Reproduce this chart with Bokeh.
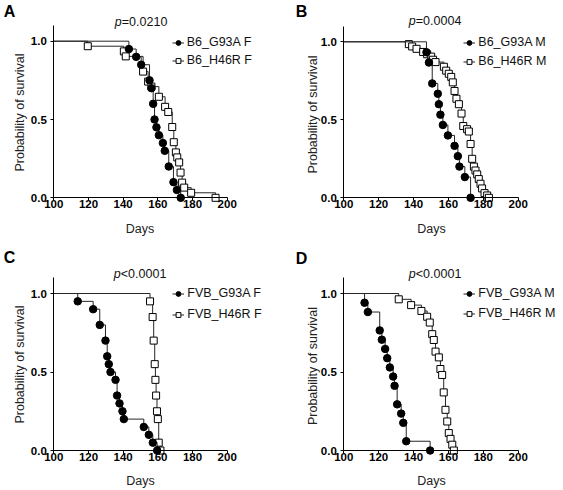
import math
from bokeh.plotting import figure
from bokeh.layouts import gridplot
from bokeh.models import (Range1d, FixedTicker, PrintfTickFormatter, Label, Legend, LegendItem,
                          LinearAxis)
from bokeh.embed import file_html
from bokeh.resources import INLINE

# ---------------- data ----------------
x_ticks = [100, 120, 140, 160, 180, 200]
y_ticks = [0.0, 0.5, 1.0]

panel_letters = ["A", "B", "C", "D"]
p_ops = ["=", "=", "<", "<"]
p_vals = ["0.0210", "0.0004", "0.0001", "0.0001"]
g93a_names = ["B6_G93A F", "B6_G93A M", "FVB_G93A F", "FVB_G93A M"]
h46r_names = ["B6_H46R F", "B6_H46R M", "FVB_H46R F", "FVB_H46R M"]

a_g93a_days = [143.3, 147.5, 150.4, 155.2, 156.3, 157.3, 158.1, 159.2, 160.6, 162.9, 164.0, 166.3, 169.0, 171.0, 173.2]
a_g93a_surv = [0.95, 0.90, 0.85, 0.75, 0.70, 0.60, 0.50, 0.45, 0.40, 0.35, 0.30, 0.20, 0.10, 0.05, 0.00]
a_h46r_days = [119.6, 140.4, 141.5, 151.5, 154.4, 156.3, 160.6, 164.2, 166.0, 168.3, 169.2, 170.4, 171.2, 172.3, 173.1, 174.0, 175.2, 179.2, 193.3]
a_h46r_surv = [0.968, 0.935, 0.903, 0.806, 0.742, 0.710, 0.645, 0.581, 0.548, 0.452, 0.355, 0.290, 0.258, 0.226, 0.161, 0.097, 0.065, 0.032, 0.0]

b_g93a_days = [147.4, 148.8, 150.7, 153.9, 154.5, 155.4, 156.8, 159.7, 163.5, 165.4, 166.3, 169.4, 172.7]
b_g93a_surv = [0.933, 0.867, 0.733, 0.667, 0.600, 0.533, 0.467, 0.400, 0.333, 0.267, 0.200, 0.133, 0.0]
b_h46r_days = [137.3, 139.2, 141.7, 145.5, 147.8, 150.1, 151.2, 152.6, 157.4, 158.7, 160.2, 161.6, 162.5, 163.5,
               164.6, 166.0, 167.5, 168.5, 170.7, 171.7, 172.7, 173.6, 174.6, 175.5, 176.5, 177.4, 178.4, 179.3,
               180.7, 182.2, 183.2]
b_h46r_surv = [0.985, 0.970, 0.955, 0.935, 0.920, 0.905, 0.885, 0.870, 0.840, 0.815, 0.795, 0.775, 0.740, 0.685,
               0.635, 0.600, 0.540, 0.460, 0.440, 0.425, 0.345, 0.250, 0.200, 0.175, 0.150, 0.120, 0.090, 0.060,
               0.030, 0.015, 0.0]

c_g93a_days = [113.8, 122.7, 126.5, 129.8, 130.8, 131.7, 132.7, 135.6, 136.5, 137.9, 139.6, 140.4, 151.9, 154.8, 157.1, 159.6]
c_g93a_surv = [0.95, 0.90, 0.80, 0.70, 0.60, 0.55, 0.50, 0.45, 0.35, 0.30, 0.25, 0.20, 0.15, 0.10, 0.05, 0.0]
c_h46r_days = [155.5, 157.0, 157.6, 158.2, 158.6, 159.0, 159.5, 160.0, 160.5, 161.5]
c_h46r_surv = [0.95, 0.85, 0.70, 0.55, 0.45, 0.35, 0.25, 0.20, 0.05, 0.0]

d_g93a_days = [111.9, 113.8, 120.6, 121.8, 123.7, 124.9, 126.4, 128.3, 129.1, 130.6, 132.9, 134.1, 135.8, 149.5]
d_g93a_surv = [0.941, 0.882, 0.765, 0.706, 0.647, 0.588, 0.529, 0.471, 0.412, 0.294, 0.235, 0.176, 0.059, 0.0]
d_h46r_days = [131.5, 138.6, 144.5, 147.8, 149.3, 150.7, 151.6, 152.6, 154.5, 155.4, 156.4, 157.3, 158.3, 159.3,
               160.2, 161.2, 162.2, 163.1]
d_h46r_surv = [0.963, 0.926, 0.889, 0.852, 0.815, 0.741, 0.704, 0.630, 0.593, 0.519, 0.481, 0.370, 0.259, 0.185,
               0.111, 0.074, 0.037, 0.0]

g93a_days = [a_g93a_days, b_g93a_days, c_g93a_days, d_g93a_days]
g93a_surv = [a_g93a_surv, b_g93a_surv, c_g93a_surv, d_g93a_surv]
h46r_days = [a_h46r_days, b_h46r_days, c_h46r_days, d_h46r_days]
h46r_surv = [a_h46r_surv, b_h46r_surv, c_h46r_surv, d_h46r_surv]

# ---------------- layout / style ----------------
FONT = "Liberation Sans"
LC = "#262626"
TXT = "#111111"

# figure origin/size on the page, and the placement of the axes inside it (page pixels)
geoms = [
    dict(x0=0, y0=0, w=280, h=245, fx=53.3, ppx=1.734, fy0=197.3, ppu=156.6),
    dict(x0=280, y0=0, w=283, h=245, fx=343.3, ppx=1.744, fy0=197.3, ppu=156.0),
    dict(x0=0, y0=245, w=280, h=245, fx=53.3, ppx=1.734, fy0=450.0, ppu=157.0),
    dict(x0=280, y0=245, w=283, h=245, fx=343.3, ppx=1.744, fy0=450.0, ppu=157.0),
]
letter_pos = [(9, 10.5), (301, 10.5), (9, 256.5), (301, 258)]
pval_pos = [(121.3, 21), (415.3, 20.5), (120.3, 273), (415.3, 273)]
days_pos = [(139.5, 228), (431, 228), (140, 480), (431, 480)]
ylab_pos = [(19, 112), (312, 114), (19, 364), (312, 365.5)]
legend_pos = [(171.7, 42), (463.3, 42), (172.3, 293.3), (463.3, 293.3)]
legend_pitch = [18, 19, 21, 20]


def to_data(g, x, y):
    return 100 + (x - g["fx"]) / g["ppx"], (g["fy0"] - y) / g["ppu"]


def add_text(p, g, x, y, text, size, style="normal", align="left", baseline="middle",
             color=TXT, angle=0.0):
    dx, dy = to_data(g, x, y)
    p.add_layout(Label(x=dx, y=dy, text=text, text_font=FONT, text_font_size=size,
                       text_font_style=style, text_align=align, text_baseline=baseline,
                       text_color=color, angle=angle))


def make_panel(i):
    g = geoms[i]
    x_lo, y_hi = to_data(g, g["x0"], g["y0"])
    x_hi, y_lo = to_data(g, g["x0"] + g["w"], g["y0"] + g["h"])
    p = figure(width=g["w"], height=g["h"],
               x_range=Range1d(x_lo, x_hi), y_range=Range1d(y_lo, y_hi),
               x_axis_location=None, y_axis_location=None,
               min_border=0, min_border_left=0, min_border_right=0,
               min_border_top=0, min_border_bottom=0,
               output_backend="svg", toolbar_location=None)
    p.grid.visible = False
    p.outline_line_color = None
    p.background_fill_color = "white"
    p.border_fill_color = "white"

    xaxis = LinearAxis(fixed_location=0, bounds=(100, 200), ticker=FixedTicker(ticks=x_ticks))
    yaxis = LinearAxis(fixed_location=100, bounds=(0, 1.1), ticker=FixedTicker(ticks=y_ticks),
                       formatter=PrintfTickFormatter(format="%.1f"))
    for ax in (xaxis, yaxis):
        ax.major_tick_in = 0
        ax.major_tick_out = 3
        ax.minor_tick_in = 0
        ax.minor_tick_out = 0
        ax.axis_line_color = "black"
        ax.major_tick_line_color = "black"
        ax.major_label_text_font = FONT
        ax.major_label_text_font_size = "11.5px"
        ax.major_label_text_font_style = "bold"
        ax.major_label_text_color = "black"
    xaxis.major_label_standoff = -1
    yaxis.major_label_standoff = 4
    p.add_layout(xaxis, "below")
    p.add_layout(yaxis, "left")

    # H46R (open squares)
    l2 = p.step(x=[100] + h46r_days[i], y=[1.0] + h46r_surv[i], mode="after", line_color=LC, line_width=1)
    s2 = p.scatter(h46r_days[i], h46r_surv[i], marker="square", size=7,
                   fill_color="white", line_color="black", line_width=1)
    # G93A (filled circles)
    l1 = p.step(x=[100] + g93a_days[i], y=[1.0] + g93a_surv[i], mode="after", line_color=LC, line_width=1)
    s1 = p.scatter(g93a_days[i], g93a_surv[i], marker="circle", size=7.5,
                   fill_color="black", line_color="black")

    # legend (location is measured from the frame's bottom-left corner)
    gx, gy = legend_pos[i]
    pitch = legend_pitch[i]
    ih = 15
    height = 2 * ih + (pitch - ih)
    bottom_page = gy - ih / 2.0 + height
    legend = Legend(items=[LegendItem(label=g93a_names[i], renderers=[l1, s1]),
                           LegendItem(label=h46r_names[i], renderers=[l2, s2])],
                    location=(gx - g["x0"], g["y0"] + g["h"] - bottom_page),
                    padding=0, margin=0, spacing=pitch - ih,
                    glyph_width=12, glyph_height=ih, label_height=ih, label_standoff=3,
                    label_text_font=FONT, label_text_font_size="12.5px", label_text_color=TXT,
                    border_line_color=None, background_fill_alpha=0)
    p.add_layout(legend)

    # texts
    lx, ly = letter_pos[i]
    add_text(p, g, lx, ly, panel_letters[i], "16px", style="bold", align="center", color="black")
    vx, vy = pval_pos[i]
    add_text(p, g, vx, vy, "p", "12.5px", style="italic", align="right")
    add_text(p, g, vx, vy, p_ops[i] + p_vals[i], "12.5px", align="left")
    dxp, dyp = days_pos[i]
    add_text(p, g, dxp, dyp, "Days", "12.5px", align="center", color="#222222")
    yx, yy = ylab_pos[i]
    add_text(p, g, yx, yy, "Probability of survival", "12.5px", align="center",
             color="#222222", angle=math.pi / 2)
    return p


panels = [make_panel(i) for i in range(4)]
grid = gridplot([[panels[0], panels[1]], [panels[2], panels[3]]], toolbar_location=None)

open("out.html", "w").write(file_html(grid, INLINE))
